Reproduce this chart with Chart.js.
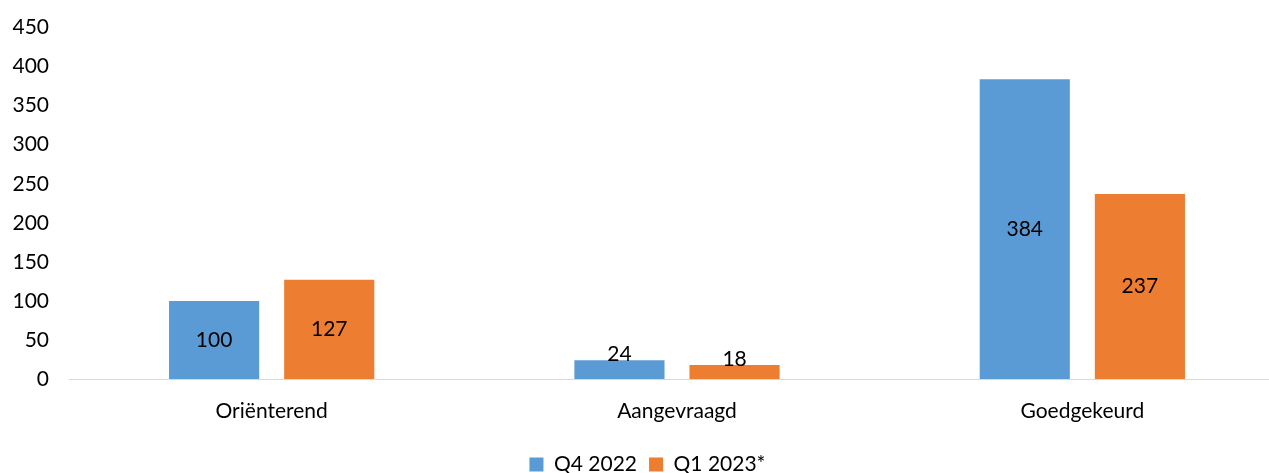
<!DOCTYPE html>
<html>
<head>
  <meta charset="utf-8">
  <title>Aanvragen per fase</title>
  <script src="https://cdn.jsdelivr.net/npm/chart.js"></script>
  <style>
    html, body { margin: 0; padding: 0; overflow: hidden; background: #fff; }
    #wrap { width: 1285px; height: 490px; margin-top: -5px; }
  </style>
</head>
<body>
<div id="wrap"><canvas id="barChart"></canvas></div>

<script>
const categories = ['Oriënterend', 'Aangevraagd', 'Goedgekeurd'];
const q4_2022 = [100, 24, 384];
const q1_2023 = [127, 18, 237];
const seriesNames = ['Q4 2022', 'Q1 2023*'];

const FONT = 'Lato, "Open Sans", sans-serif';
const FS = 21;

// draws the value in the middle of each bar, or just above it when the bar is too short
const valueLabels = {
  id: 'valueLabels',
  afterDatasetsDraw(chart) {
    const ctx = chart.ctx;
    ctx.save();
    ctx.font = FS + 'px ' + FONT;
    ctx.fillStyle = '#000';
    ctx.textAlign = 'center';
    ctx.textBaseline = 'middle';
    chart.data.datasets.forEach((ds, i) => {
      chart.getDatasetMeta(i).data.forEach((bar, j) => {
        const h = bar.base - bar.y;
        let y = bar.y + h / 2;
        if (h < 28) y = bar.y - 6;
        ctx.fillText(String(ds.data[j]), bar.x, y);
      });
    });
    ctx.restore();
  }
};

new Chart(document.getElementById('barChart'), {
  type: 'bar',
  data: {
    labels: categories,
    datasets: [
      { label: seriesNames[0], data: q4_2022, backgroundColor: '#5B9BD5' },
      { label: seriesNames[1], data: q1_2023, backgroundColor: '#ED7D31' }
    ]
  },
  options: {
    responsive: true,
    maintainAspectRatio: false,
    animation: false,
    categoryPercentage: 0.568,
    barPercentage: 0.783,
    layout: { padding: { top: 4, left: 10, right: 0, bottom: 0 } },
    plugins: {
      tooltip: { enabled: false },
      legend: {
        position: 'bottom',
        labels: {
          boxWidth: 14, boxHeight: 14,
          font: { family: FONT, size: FS },
          color: '#000',
          padding: 12
        }
      }
    },
    scales: {
      x: {
        grid: { display: false, drawTicks: false },
        border: { color: '#D9D9D9', width: 1 },
        ticks: { font: { family: FONT, size: FS }, color: '#000', padding: 20 },
        afterFit(scale) { scale.height = 63; }
      },
      y: {
        min: 0, max: 450,
        ticks: { stepSize: 50, font: { family: FONT, size: FS }, color: '#000', padding: 20 },
        grid: { display: false, drawTicks: false },
        border: { display: false },
        afterFit(scale) { scale.width = 59; }
      }
    }
  },
  plugins: [valueLabels]
});
</script>
</body>
</html>
